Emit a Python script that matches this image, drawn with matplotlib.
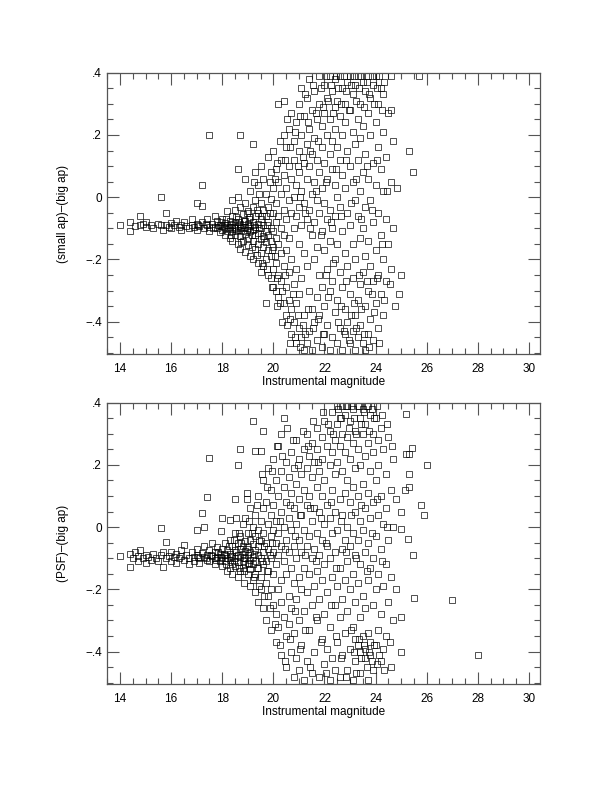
import numpy as np
import matplotlib.pyplot as plt
from matplotlib.ticker import MultipleLocator

plt.rcParams['font.family'] = ['Liberation Sans', 'DejaVu Sans']

# (magnitude, difference) pairs
# top panel: (small ap)-(big ap)
ap_bright = [
    (14.0, -0.088), (14.4, -0.080), (14.4, -0.108), (14.6, -0.092), (14.8, -0.062),
    (14.8, -0.090), (14.9, -0.085), (15.0, -0.095), (15.0, -0.080), (15.2, -0.090),
    (15.3, -0.098), (15.5, -0.085), (15.6, 0.000), (15.6, -0.090), (15.7, -0.105),
    (15.8, -0.050), (15.8, -0.088), (15.9, -0.095), (16.0, -0.082), (16.0, -0.100),
    (16.1, -0.090), (16.2, -0.075), (16.3, -0.095), (16.4, -0.088), (16.4, -0.105),
    (16.5, -0.080), (16.6, -0.092), (16.7, -0.100), (16.8, -0.070), (16.8, -0.088),
    (16.9, -0.095), (17.0, -0.020), (17.0, -0.085), (17.0, -0.105), (17.1, -0.092),
    (17.2, 0.040), (17.2, -0.028), (17.2, -0.080), (17.3, -0.098), (17.4, -0.088),
    (17.4, -0.070), (17.5, 0.200), (17.5, -0.095), (17.5, -0.108), (17.6, -0.085),
    (17.7, -0.060), (17.7, -0.095), (17.8, -0.078), (17.8, -0.100), (17.9, -0.088),
    (17.9, -0.112), (18.0, -0.070), (18.0, -0.092), (18.0, -0.105),
]
ap_mid = [
    (18.1, -0.082), (18.1, -0.100), (18.1, -0.120), (18.2, -0.045), (18.2, -0.090),
    (18.2, -0.108), (18.3, -0.075), (18.3, -0.095), (18.3, -0.130), (18.4, -0.010),
    (18.4, -0.060), (18.4, -0.088), (18.4, -0.110), (18.4, -0.140), (18.5, -0.040),
    (18.5, -0.080), (18.5, -0.098), (18.5, -0.120), (18.6, 0.090), (18.6, 0.000),
    (18.6, -0.070), (18.6, -0.092), (18.6, -0.105), (18.6, -0.150), (18.7, 0.200),
    (18.7, -0.030), (18.7, -0.085), (18.7, -0.100), (18.7, -0.125), (18.7, -0.165),
    (18.8, -0.055), (18.8, -0.090), (18.8, -0.110), (18.8, -0.140), (18.9, 0.060),
    (18.9, -0.020), (18.9, -0.075), (18.9, -0.095), (18.9, -0.118), (18.9, -0.175),
    (19.0, -0.045), (19.0, -0.085), (19.0, -0.100), (19.0, -0.130), (19.0, -0.155),
    (19.1, 0.020), (19.1, -0.065), (19.1, -0.092), (19.1, -0.110), (19.1, -0.190),
    (19.2, 0.170), (19.2, -0.030), (19.2, -0.080), (19.2, -0.105), (19.2, -0.140),
    (19.2, -0.200), (19.3, 0.080), (19.3, -0.010), (19.3, -0.060), (19.3, -0.095),
    (19.3, -0.120), (19.3, -0.165), (19.4, 0.040), (19.4, -0.050), (19.4, -0.085),
    (19.4, -0.115), (19.4, -0.150), (19.4, -0.210), (19.5, 0.100), (19.5, -0.020),
    (19.5, -0.070), (19.5, -0.100), (19.5, -0.135), (19.5, -0.180), (19.5, -0.240),
    (19.6, 0.060), (19.6, -0.040), (19.6, -0.090), (19.6, -0.125), (19.6, -0.160),
    (19.6, -0.220), (19.7, 0.010), (19.7, -0.060), (19.7, -0.110), (19.7, -0.145),
    (19.7, -0.200), (19.7, -0.340), (19.8, 0.130), (19.8, -0.030), (19.8, -0.080),
    (19.8, -0.120), (19.8, -0.170), (19.8, -0.250), (19.9, 0.080), (19.9, -0.005),
    (19.9, -0.100), (19.9, -0.140), (19.9, -0.190), (19.9, -0.260),
    (17.05, -0.090), (17.35, -0.085), (17.65, -0.100), (17.85, -0.090), (17.95, -0.080),
    (18.05, -0.095), (18.15, -0.070), (18.25, -0.100), (18.35, -0.085), (18.45, -0.095),
    (18.55, -0.110), (18.65, -0.080), (18.75, -0.095), (18.85, -0.075), (18.95, -0.105),
    (19.05, -0.070), (19.15, -0.120), (19.25, -0.090), (19.35, -0.040), (19.45, -0.100),
    (19.55, -0.060), (19.65, -0.130), (19.75, -0.090), (19.85, -0.050), (19.95, -0.170),
    (18.35, -0.120), (18.55, -0.065), (18.75, -0.145), (18.95, -0.050), (19.15, -0.160),
    (19.35, -0.185), (19.55, -0.210), (19.75, -0.230), (19.85, 0.050), (19.45, 0.010),
    (19.25, 0.050),
]
ap_faint = [
    (20.0, 0.150), (20.0, 0.030), (20.0, -0.050), (20.0, -0.110), (20.0, -0.160),
    (20.0, -0.230), (20.0, -0.290), (20.1, 0.090), (20.1, -0.020), (20.1, -0.080),
    (20.1, -0.130), (20.1, -0.210), (20.1, -0.300), (20.2, 0.300), (20.2, 0.050),
    (20.2, -0.060), (20.2, -0.150), (20.2, -0.250), (20.2, -0.320), (20.3, 0.120),
    (20.3, 0.010), (20.3, -0.100), (20.3, -0.180), (20.3, -0.270), (20.4, 0.310),
    (20.4, 0.200), (20.4, 0.070), (20.4, -0.040), (20.4, -0.120), (20.4, -0.220),
    (20.4, -0.340), (20.5, 0.160), (20.5, 0.030), (20.5, -0.070), (20.5, -0.170),
    (20.5, -0.290), (20.5, -0.380), (20.6, 0.220), (20.6, 0.100), (20.6, -0.010),
    (20.6, -0.130), (20.6, -0.240), (20.6, -0.330), (20.7, 0.270), (20.7, 0.060),
    (20.7, -0.050), (20.7, -0.200), (20.7, -0.360), (20.7, -0.440), (20.8, 0.180),
    (20.8, 0.120), (20.8, 0.000), (20.8, -0.100), (20.8, -0.280), (20.8, -0.400),
    (20.9, 0.240), (20.9, 0.040), (20.9, -0.060), (20.9, -0.230), (20.9, -0.340),
    (20.9, -0.470), (21.0, 0.300), (21.0, 0.150), (21.0, 0.080), (21.0, -0.030),
    (21.0, -0.150), (21.0, -0.310), (21.0, -0.420), (21.1, 0.350), (21.1, 0.200),
    (21.1, 0.020), (21.1, -0.090), (21.1, -0.260), (21.1, -0.450), (21.2, 0.260),
    (21.2, 0.110), (21.2, -0.020), (21.2, -0.180), (21.2, -0.380), (21.2, -0.490),
    (21.3, 0.320), (21.3, 0.170), (21.3, 0.060), (21.3, -0.070), (21.3, -0.220),
    (21.3, -0.470), (21.4, 0.380), (21.4, 0.220), (21.4, 0.100), (21.4, -0.040),
    (21.4, -0.300), (21.4, -0.430), (21.5, 0.280), (21.5, 0.140), (21.5, 0.010),
    (21.5, -0.120), (21.5, -0.360), (21.5, -0.490), (21.6, 0.340), (21.6, 0.190),
    (21.6, 0.050), (21.6, -0.080), (21.6, -0.200), (21.6, -0.400), (21.7, 0.250),
    (21.7, 0.120), (21.7, -0.010), (21.7, -0.160), (21.7, -0.320), (21.7, -0.460),
    (21.8, 0.390), (21.8, 0.300), (21.8, 0.080), (21.8, -0.050), (21.8, -0.250),
    (21.8, -0.380), (21.9, 0.230), (21.9, 0.160), (21.9, 0.030), (21.9, -0.110),
    (21.9, -0.290), (21.9, -0.480), (22.0, 0.360), (22.0, 0.270), (22.0, 0.110),
    (22.0, -0.020), (22.0, -0.170), (22.0, -0.350), (22.0, -0.440), (22.1, 0.320),
    (22.1, 0.200), (22.1, 0.060), (22.1, -0.070), (22.1, -0.230), (22.1, -0.410),
    (22.2, 0.390), (22.2, 0.250), (22.2, 0.140), (22.2, -0.040), (22.2, -0.140),
    (22.2, -0.300), (22.2, -0.490), (22.3, 0.340), (22.3, 0.180), (22.3, 0.090),
    (22.3, -0.100), (22.3, -0.270), (22.3, -0.450), (22.4, 0.380), (22.4, 0.290),
    (22.4, 0.220), (22.4, 0.040), (22.4, -0.060), (22.4, -0.200), (22.4, -0.370),
    (22.5, 0.310), (22.5, 0.160), (22.5, 0.000), (22.5, -0.150), (22.5, -0.330),
    (22.5, -0.470), (22.6, 0.390), (22.6, 0.260), (22.6, 0.120), (22.6, -0.030),
    (22.6, -0.240), (22.6, -0.420), (22.7, 0.350), (22.7, 0.200), (22.7, 0.070),
    (22.7, -0.110), (22.7, -0.290), (22.7, -0.490), (22.8, 0.300), (22.8, 0.240),
    (22.8, 0.030), (22.8, -0.180), (22.8, -0.360), (22.8, -0.440), (22.9, 0.370),
    (22.9, 0.150), (22.9, -0.050), (22.9, -0.220), (22.9, -0.400), (23.0, 0.390),
    (23.0, 0.280), (23.0, 0.100), (23.0, -0.090), (23.0, -0.310), (23.0, -0.470),
    (23.1, 0.330), (23.1, 0.210), (23.1, 0.050), (23.1, -0.150), (23.1, -0.260),
    (23.1, -0.430), (23.2, 0.360), (23.2, 0.170), (23.2, -0.010), (23.2, -0.200),
    (23.2, -0.380), (23.2, -0.490), (23.3, 0.390), (23.3, 0.250), (23.3, 0.120),
    (23.3, -0.060), (23.3, -0.330), (23.3, -0.450), (23.4, 0.300), (23.4, 0.190),
    (23.4, 0.020), (23.4, -0.130), (23.4, -0.280), (23.4, -0.410), (23.5, 0.370),
    (23.5, 0.230), (23.5, 0.080), (23.5, -0.100), (23.5, -0.240), (23.5, -0.470),
    (23.6, 0.340), (23.6, 0.140), (23.6, -0.030), (23.6, -0.190), (23.6, -0.350),
    (23.6, -0.490), (23.7, 0.390), (23.7, 0.270), (23.7, 0.060), (23.7, -0.140),
    (23.7, -0.300), (23.7, -0.440), (23.8, 0.320), (23.8, 0.200), (23.8, -0.010),
    (23.8, -0.220), (23.8, -0.390), (23.9, 0.360), (23.9, 0.110), (23.9, -0.080),
    (23.9, -0.270), (23.9, -0.460), (24.0, 0.390), (24.0, 0.240), (24.0, 0.040),
    (24.0, -0.170), (24.0, -0.340), (24.1, 0.300), (24.1, 0.160), (24.1, -0.050),
    (24.1, -0.250), (24.1, -0.420), (24.2, 0.350), (24.2, 0.090), (24.2, -0.120),
    (24.2, -0.310), (24.3, 0.330), (24.3, 0.210), (24.3, 0.020), (24.3, -0.200),
    (24.3, -0.380), (24.4, 0.130), (24.4, -0.070), (24.4, -0.270), (24.5, 0.270),
    (24.5, -0.150), (24.6, 0.390), (24.6, 0.280), (24.6, 0.050), (24.6, -0.230),
    (24.7, 0.180), (24.7, -0.100), (24.85, 0.030), (24.9, -0.310), (25.0, -0.250),
    (25.3, 0.150), (25.45, 0.080), (25.7, 0.390),
]
ap_extra = [
    (20.05, -0.190), (20.15, -0.260), (20.25, -0.340), (20.35, -0.300), (20.45, -0.250),
    (20.55, -0.410), (20.65, -0.390), (20.75, -0.310), (20.85, -0.450), (20.95, -0.380),
    (21.05, -0.480), (21.15, -0.410), (20.05, 0.060), (20.15, 0.110), (20.25, 0.180),
    (20.45, 0.120), (20.55, 0.250), (20.65, 0.160), (20.85, 0.210), (20.95, 0.100),
    (21.05, 0.260), (21.15, 0.130), (21.25, 0.330), (21.35, 0.240), (21.45, 0.150),
    (21.55, 0.360), (21.65, 0.270), (21.75, 0.180), (21.85, 0.350), (21.95, 0.290),
    (22.05, 0.390), (22.15, 0.310), (22.25, 0.360), (22.35, 0.270), (22.45, 0.390),
    (22.55, 0.350), (22.65, 0.300), (22.75, 0.390), (22.85, 0.340), (22.95, 0.280),
    (23.05, 0.360), (23.15, 0.390), (23.25, 0.310), (23.35, 0.350), (23.45, 0.390),
    (23.55, 0.290), (23.65, 0.370), (23.75, 0.330), (23.85, 0.390), (23.95, 0.300),
    (24.05, 0.350), (24.15, 0.390), (24.25, 0.280), (24.35, 0.370), (21.05, 0.000),
    (21.25, -0.050), (21.45, -0.100), (21.65, 0.020), (21.85, -0.120), (22.05, 0.050),
    (22.25, -0.080), (22.45, 0.090), (22.65, -0.060), (22.85, 0.120), (23.05, -0.020),
    (23.25, 0.060), (23.45, -0.070), (23.65, 0.100), (23.85, -0.040), (24.05, 0.120),
    (24.25, -0.150), (24.45, 0.020), (22.05, -0.250), (22.15, -0.320), (22.35, -0.210),
    (22.55, -0.400), (22.65, -0.350), (22.75, -0.430), (22.85, -0.270), (22.95, -0.460),
    (23.05, -0.380), (23.15, -0.340), (23.25, -0.420), (23.35, -0.250), (23.45, -0.360),
    (23.55, -0.440), (23.65, -0.270), (23.75, -0.480), (23.85, -0.310), (23.95, -0.370),
    (24.05, -0.260), (24.15, -0.470), (24.35, -0.330), (24.55, -0.280), (24.75, -0.350),
    (19.95, -0.290), (20.15, -0.350), (20.35, -0.400), (20.65, -0.470), (21.25, -0.440),
    (21.35, -0.360), (21.55, -0.420), (21.75, -0.390), (21.95, -0.440),
]

# bottom panel: (PSF)-(big ap)
psf_bright = [
    (14.0, -0.094), (14.4, -0.085), (14.4, -0.128), (14.5, -0.100), (14.6, -0.080),
    (14.7, -0.110), (14.7, -0.092), (14.8, -0.075), (14.9, -0.100), (15.0, -0.115),
    (15.0, -0.088), (15.1, -0.095), (15.2, -0.105), (15.3, -0.085), (15.4, -0.098),
    (15.5, -0.110), (15.6, -0.003), (15.6, -0.090), (15.7, -0.128), (15.7, -0.080),
    (15.8, -0.049), (15.8, -0.100), (15.9, -0.092), (16.0, -0.108), (16.0, -0.080),
    (16.1, -0.095), (16.2, -0.085), (16.2, -0.115), (16.3, -0.100), (16.4, -0.075),
    (16.4, -0.092), (16.5, -0.056), (16.5, -0.105), (16.6, -0.088), (16.7, -0.098),
    (16.7, -0.118), (16.8, -0.080), (16.9, -0.095), (16.9, -0.108), (17.0, -0.008),
    (17.0, -0.070), (17.0, -0.090), (17.1, -0.100), (17.1, -0.115), (17.2, 0.045),
    (17.2, -0.082), (17.27, 0.000), (17.3, -0.095), (17.3, -0.060), (17.4, 0.097),
    (17.4, -0.105), (17.4, -0.088), (17.48, 0.222), (17.5, -0.075), (17.5, -0.110),
    (17.6, -0.092), (17.6, -0.050), (17.7, -0.100), (17.7, -0.120), (17.7, -0.080),
    (17.8, -0.065), (17.8, -0.095), (17.9, -0.110), (17.9, -0.085), (17.97, -0.013),
    (18.0, 0.030), (18.0, -0.070), (18.0, -0.100), (18.0, -0.125),
]
psf_mid = [
    (18.1, -0.050), (18.1, -0.090), (18.1, -0.110), (18.2, -0.075), (18.2, -0.098),
    (18.2, -0.140), (18.3, 0.024), (18.3, -0.040), (18.3, -0.085), (18.3, -0.105),
    (18.3, -0.130), (18.4, -0.060), (18.4, -0.092), (18.4, -0.118), (18.4, -0.150),
    (18.5, 0.090), (18.5, -0.020), (18.5, -0.075), (18.5, -0.100), (18.5, -0.125),
    (18.6, 0.200), (18.6, -0.050), (18.6, -0.088), (18.6, -0.112), (18.6, -0.160),
    (18.7, 0.250), (18.7, -0.030), (18.7, -0.070), (18.7, -0.095), (18.7, -0.140),
    (18.8, 0.010), (18.8, -0.060), (18.8, -0.085), (18.8, -0.108), (18.8, -0.130),
    (18.85, -0.178), (18.9, 0.030), (18.9, -0.045), (18.9, -0.078), (18.9, -0.100),
    (18.9, -0.120), (18.95, 0.110), (18.95, 0.090), (19.0, -0.020), (19.0, -0.065),
    (19.0, -0.090), (19.0, -0.115), (19.0, -0.150), (19.1, 0.060), (19.1, -0.040),
    (19.1, -0.080), (19.1, -0.105), (19.1, -0.135), (19.1, -0.190), (19.2, 0.340),
    (19.2, 0.000), (19.2, -0.055), (19.2, -0.095), (19.2, -0.120), (19.2, -0.170),
    (19.3, 0.246), (19.3, 0.040), (19.3, -0.030), (19.3, -0.075), (19.3, -0.110),
    (19.3, -0.150), (19.3, -0.210), (19.4, 0.100), (19.4, -0.010), (19.4, -0.060),
    (19.4, -0.090), (19.4, -0.130), (19.4, -0.240), (19.5, 0.246), (19.5, 0.020),
    (19.5, -0.045), (19.5, -0.100), (19.5, -0.160), (19.5, -0.200), (19.6, 0.310),
    (19.6, 0.150), (19.6, 0.060), (19.6, -0.020), (19.6, -0.080), (19.6, -0.120),
    (19.6, -0.260), (19.7, 0.080), (19.7, -0.050), (19.7, -0.110), (19.7, -0.180),
    (19.7, -0.300), (19.8, 0.190), (19.8, 0.010), (19.8, -0.070), (19.8, -0.140),
    (19.8, -0.220), (19.9, 0.120), (19.9, 0.040), (19.9, -0.030), (19.9, -0.100),
    (19.9, -0.200), (19.9, -0.330),
    (17.05, -0.095), (17.35, -0.100), (17.55, -0.090), (17.75, -0.105), (17.85, -0.080),
    (17.95, -0.095), (18.05, -0.085), (18.15, -0.120), (18.25, -0.060), (18.35, -0.095),
    (18.45, -0.110), (18.55, -0.080), (18.65, -0.130), (18.75, -0.050), (18.85, -0.100),
    (18.95, -0.070), (19.05, -0.120), (19.15, -0.020), (19.25, -0.085), (19.35, -0.130),
    (19.45, -0.040), (19.55, -0.110), (19.65, -0.060), (19.75, -0.140), (19.85, -0.090),
    (19.95, -0.050), (18.45, -0.040), (18.65, -0.020), (18.85, -0.140), (19.05, 0.020),
    (19.25, -0.160), (19.45, -0.190), (19.65, -0.220), (19.85, -0.260), (18.55, 0.030),
    (19.35, 0.070),
]
psf_faint = [
    (20.0, 0.220), (20.0, 0.070), (20.0, -0.010), (20.0, -0.080), (20.0, -0.150),
    (20.0, -0.250), (20.1, 0.150), (20.1, 0.020), (20.1, -0.050), (20.1, -0.120),
    (20.1, -0.280), (20.1, -0.370), (20.2, 0.260), (20.2, 0.100), (20.2, -0.020),
    (20.2, -0.090), (20.2, -0.200), (20.2, -0.320), (20.3, 0.300), (20.3, 0.180),
    (20.3, 0.050), (20.3, -0.060), (20.3, -0.170), (20.3, -0.240), (20.3, -0.410),
    (20.4, 0.350), (20.4, 0.130), (20.4, 0.000), (20.4, -0.110), (20.4, -0.290),
    (20.5, 0.210), (20.5, 0.080), (20.5, -0.040), (20.5, -0.150), (20.5, -0.350),
    (20.5, -0.450), (20.6, 0.160), (20.6, 0.030), (20.6, -0.080), (20.6, -0.220),
    (20.6, -0.310), (20.7, 0.240), (20.7, 0.110), (20.7, -0.010), (20.7, -0.130),
    (20.7, -0.260), (20.7, -0.400), (20.8, 0.190), (20.8, 0.060), (20.8, -0.060),
    (20.8, -0.180), (20.8, -0.340), (20.8, -0.480), (20.9, 0.280), (20.9, 0.140),
    (20.9, 0.010), (20.9, -0.100), (20.9, -0.230), (20.9, -0.420), (21.0, 0.220),
    (21.0, 0.090), (21.0, -0.040), (21.0, -0.160), (21.0, -0.300), (21.0, -0.460),
    (21.1, 0.170), (21.1, 0.040), (21.1, -0.080), (21.1, -0.200), (21.1, -0.380),
    (21.2, 0.250), (21.2, 0.120), (21.2, -0.010), (21.2, -0.130), (21.2, -0.270),
    (21.2, -0.490), (21.3, 0.300), (21.3, 0.190), (21.3, 0.070), (21.3, -0.060),
    (21.3, -0.210), (21.3, -0.430), (21.4, 0.230), (21.4, 0.100), (21.4, -0.030),
    (21.4, -0.150), (21.4, -0.330), (21.5, 0.270), (21.5, 0.160), (21.5, 0.020),
    (21.5, -0.100), (21.5, -0.250), (21.5, -0.470), (21.6, 0.210), (21.6, 0.060),
    (21.6, -0.070), (21.6, -0.190), (21.6, -0.400), (21.7, 0.320), (21.7, 0.250),
    (21.7, 0.130), (21.7, -0.020), (21.7, -0.140), (21.7, -0.300), (21.8, 0.180),
    (21.8, 0.050), (21.8, -0.090), (21.8, -0.230), (21.8, -0.480), (21.9, 0.290),
    (21.9, 0.220), (21.9, 0.100), (21.9, -0.040), (21.9, -0.170), (21.9, -0.360),
    (22.0, 0.340), (22.0, 0.150), (22.0, 0.010), (22.0, -0.120), (22.0, -0.280),
    (22.0, -0.440), (22.1, 0.260), (22.1, 0.070), (22.1, -0.060), (22.1, -0.210),
    (22.1, -0.390), (22.2, 0.310), (22.2, 0.200), (22.2, 0.030), (22.2, -0.100),
    (22.2, -0.320), (22.2, -0.490), (22.3, 0.370), (22.3, 0.240), (22.3, 0.120),
    (22.3, -0.020), (22.3, -0.160), (22.3, -0.420), (22.4, 0.280), (22.4, 0.170),
    (22.4, 0.050), (22.4, -0.080), (22.4, -0.250), (22.4, -0.460), (22.5, 0.390),
    (22.5, 0.330), (22.5, 0.210), (22.5, -0.010), (22.5, -0.190), (22.5, -0.370),
    (22.6, 0.350), (22.6, 0.260), (22.6, 0.090), (22.6, -0.130), (22.6, -0.290),
    (22.6, -0.480), (22.7, 0.390), (22.7, 0.300), (22.7, 0.180), (22.7, 0.040),
    (22.7, -0.070), (22.7, -0.230), (22.7, -0.410), (22.8, 0.360), (22.8, 0.240),
    (22.8, 0.110), (22.8, -0.040), (22.8, -0.170), (22.8, -0.340), (22.9, 0.390),
    (22.9, 0.290), (22.9, 0.150), (22.9, 0.000), (22.9, -0.110), (22.9, -0.270),
    (22.9, -0.460), (23.0, 0.340), (23.0, 0.220), (23.0, 0.080), (23.0, -0.060),
    (23.0, -0.200), (23.0, -0.390), (23.1, 0.380), (23.1, 0.270), (23.1, 0.130),
    (23.1, -0.020), (23.1, -0.150), (23.1, -0.320), (23.1, -0.490), (23.2, 0.310),
    (23.2, 0.190), (23.2, 0.050), (23.2, -0.090), (23.2, -0.240), (23.2, -0.360),
    (23.2, -0.430), (23.3, 0.390), (23.3, 0.250), (23.3, 0.100), (23.3, -0.040),
    (23.3, -0.180), (23.3, -0.380), (23.4, 0.350), (23.4, 0.200), (23.4, 0.020),
    (23.4, -0.120), (23.4, -0.290), (23.4, -0.400), (23.4, -0.470), (23.5, 0.380),
    (23.5, 0.300), (23.5, 0.140), (23.5, -0.010), (23.5, -0.220), (23.5, -0.350),
    (23.6, 0.330), (23.6, 0.230), (23.6, 0.060), (23.6, -0.080), (23.6, -0.260),
    (23.6, -0.390), (23.6, -0.420), (23.7, 0.390), (23.7, 0.270), (23.7, 0.110),
    (23.7, -0.050), (23.7, -0.170), (23.7, -0.340), (23.7, -0.490), (23.8, 0.360),
    (23.8, 0.180), (23.8, 0.030), (23.8, -0.130), (23.8, -0.370), (23.8, -0.410),
    (23.9, 0.300), (23.9, 0.240), (23.9, 0.080), (23.9, -0.100), (23.9, -0.250),
    (23.9, -0.460), (24.0, 0.350), (24.0, 0.150), (24.0, -0.030), (24.0, -0.200),
    (24.0, -0.380), (24.1, 0.280), (24.1, 0.200), (24.1, 0.040), (24.1, -0.150),
    (24.1, -0.330), (24.2, 0.320), (24.2, 0.100), (24.2, -0.070), (24.2, -0.280),
    (24.2, -0.430), (24.3, 0.250), (24.3, 0.010), (24.3, -0.190), (24.3, -0.390),
    (24.4, 0.170), (24.4, 0.060), (24.4, -0.120), (24.4, -0.350), (24.5, 0.290),
    (24.5, -0.040), (24.5, -0.240), (24.6, 0.120), (24.6, -0.160), (24.6, -0.450),
    (24.7, 0.220), (24.7, 0.000), (24.7, -0.300), (24.8, 0.090), (24.8, -0.200),
    (25.0, 0.050), (25.0, -0.005), (25.0, -0.288), (25.0, -0.400), (25.15, 0.120),
    (25.2, 0.363), (25.2, 0.235), (25.26, -0.037), (25.3, 0.235), (25.3, 0.170),
    (25.3, 0.129), (25.42, 0.254), (25.48, -0.089), (25.52, -0.229), (25.76, 0.072),
    (25.9, 0.039), (26.0, 0.200), (27.0, -0.235), (28.0, -0.410),
]
psf_extra = [
    (19.55, 0.170), (19.75, 0.130), (19.95, 0.180), (20.15, 0.260), (20.35, 0.230),
    (20.55, 0.320), (20.75, 0.280), (20.95, 0.200), (21.15, 0.310), (21.35, 0.260),
    (21.55, 0.340), (21.75, 0.210), (21.95, 0.370), (22.15, 0.330), (22.35, 0.300),
    (22.55, 0.380), (22.65, 0.350), (22.85, 0.390), (22.95, 0.320), (23.05, 0.390),
    (23.15, 0.350), (23.25, 0.300), (23.35, 0.390), (23.45, 0.330), (23.55, 0.370),
    (23.65, 0.390), (23.75, 0.310), (23.85, 0.380), (23.95, 0.350), (24.05, 0.390),
    (24.25, 0.360), (24.45, 0.330), (24.65, 0.260), (20.25, 0.020), (20.45, -0.070),
    (20.65, 0.070), (20.85, -0.030), (21.05, 0.040), (21.25, -0.090), (21.45, 0.060),
    (21.65, -0.110), (21.85, 0.030), (22.05, -0.050), (22.25, 0.080), (22.45, -0.130),
    (22.65, 0.020), (22.85, -0.080), (23.05, 0.040), (23.25, -0.100), (23.45, 0.070),
    (23.65, -0.140), (23.85, -0.020), (24.05, 0.090), (24.25, -0.110), (24.45, 0.000),
    (20.05, -0.310), (20.25, -0.380), (20.45, -0.430), (20.65, -0.360), (20.85, -0.270),
    (21.05, -0.390), (21.25, -0.330), (21.45, -0.450), (21.65, -0.290), (21.85, -0.370),
    (22.05, -0.470), (22.25, -0.250), (22.45, -0.350), (22.65, -0.420), (22.85, -0.480),
    (23.05, -0.330), (23.15, -0.400), (23.25, -0.470), (23.35, -0.360), (23.45, -0.420),
    (23.55, -0.380), (23.65, -0.450), (23.75, -0.400), (23.85, -0.430), (23.95, -0.380),
    (24.05, -0.440), (24.15, -0.410), (24.35, -0.460), (24.55, -0.370),
]

panels = [
    ('(small ap)\u2013(big ap)', ap_bright + ap_mid + ap_faint + ap_extra),
    ('(PSF)\u2013(big ap)', psf_bright + psf_mid + psf_faint + psf_extra),
]

ytick_vals = [-0.4, -0.2, 0.0, 0.2, 0.4]
ytick_labels = ['\u2212.4', '\u2212.2', '0', '.2', '.4']
xtick_vals = [14, 16, 18, 20, 22, 24, 26, 28, 30]

fig = plt.figure(figsize=(6.12, 7.92), dpi=100)
axes_pos = [[0.1753, 0.5526, 0.7076, 0.3556],
            [0.1753, 0.1360, 0.7076, 0.3556]]

for pos, (ylab, pts) in zip(axes_pos, panels):
    ax = fig.add_axes(pos)
    pts = np.array(pts)
    ax.plot(pts[:, 0], pts[:, 1], 's', ls='none', mfc='none', mec='black',
            ms=5, mew=0.6, alpha=0.8)
    ax.set_xlim(13.5, 30.45)
    ax.set_ylim(-0.505, 0.4)
    ax.set_xticks(xtick_vals)
    ax.set_yticks(ytick_vals)
    ax.set_yticklabels(ytick_labels)
    ax.xaxis.set_minor_locator(MultipleLocator(0.5))
    ax.yaxis.set_minor_locator(MultipleLocator(0.05))
    ax.tick_params(which='both', direction='in', top=True, right=True,
                   color='#555555', width=0.8, labelsize=8.5)
    ax.tick_params(which='major', length=8.5)
    ax.tick_params(which='minor', length=4)
    ax.tick_params(axis='x', pad=6)
    ax.tick_params(axis='y', pad=4)
    for sp in ax.spines.values():
        sp.set_color('#555555')
        sp.set_linewidth(0.9)
    ax.set_xlabel('Instrumental magnitude', fontsize=8.5)
    ax.set_ylabel(ylab, fontsize=8.5)
    ax.xaxis.set_label_coords(0.5, -0.078)
    ax.yaxis.set_label_coords(-0.088, 0.5)

fig.savefig('out.png', dpi=100)
